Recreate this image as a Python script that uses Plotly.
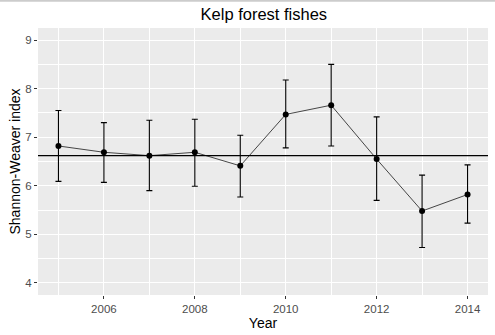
import plotly.graph_objects as go

# Annual Shannon-Weaver diversity of kelp forest fishes
years = [2005, 2006, 2007, 2008, 2009, 2010, 2011, 2012, 2013, 2014]
index_mean = [6.82, 6.69, 6.62, 6.69, 6.41, 7.47, 7.66, 6.55, 5.48, 5.82]
upper = [7.55, 7.30, 7.35, 7.37, 7.04, 8.18, 8.50, 7.42, 6.22, 6.43]
lower = [6.09, 6.07, 5.90, 5.99, 5.77, 6.78, 6.82, 5.70, 4.73, 5.23]

x_ticks = [2006, 2008, 2010, 2012, 2014]
y_ticks = [4, 5, 6, 7, 8, 9]

err_plus = [u - m for u, m in zip(upper, index_mean)]
err_minus = [m - l for m, l in zip(index_mean, lower)]
overall_mean = sum(index_mean) / len(index_mean)

fig = go.Figure()
fig.add_trace(go.Scatter(
    x=years, y=index_mean,
    mode="lines+markers",
    line=dict(color="#1a1a1a", width=0.8),
    marker=dict(color="black", size=6),
    error_y=dict(type="data", symmetric=False, array=err_plus,
                 arrayminus=err_minus, color="black", thickness=1.1, width=3),
    showlegend=False,
))
fig.add_hline(y=overall_mean, line=dict(color="black", width=1.1))

grid_style = dict(
    showgrid=True, gridcolor="white", gridwidth=1.1,
    zeroline=False, showline=False,
    ticks="outside", ticklen=3, tickwidth=1, tickcolor="#333333",
    tickfont=dict(family="Liberation Sans, Arial", size=11.5, color="#4d4d4d"),
)

fig.update_layout(
    width=495, height=335,
    margin=dict(l=38, r=7, t=28, b=40),
    paper_bgcolor="white",
    plot_bgcolor="#ebebeb",
    title=dict(text="Kelp forest fishes", x=0.533, xanchor="center",
               y=0.958, yanchor="middle",
               font=dict(family="Liberation Sans, Arial", size=16.5, color="black")),
    xaxis=dict(range=[2004.55, 2014.45], tickvals=x_ticks,
               minor=dict(tickvals=[2005, 2007, 2009, 2011, 2013],
                          showgrid=True, gridcolor="white", gridwidth=0.5, ticks=""),
               title=dict(text="Year", standoff=4,
                          font=dict(family="Liberation Sans, Arial", size=14, color="black")),
               **grid_style),
    yaxis=dict(range=[3.75, 9.25], tickvals=y_ticks,
               minor=dict(tickvals=[4.5, 5.5, 6.5, 7.5, 8.5],
                          showgrid=True, gridcolor="white", gridwidth=0.5, ticks=""),
               title=dict(text="Shannon-Weaver index", standoff=1,
                          font=dict(family="Liberation Sans, Arial", size=14, color="black")),
               **grid_style),
)

# thin rule along the top edge of the page
fig.add_shape(type="line", xref="paper", yref="paper", x0=-0.2, x1=1.2,
              y0=1.102, y1=1.102, line=dict(color="#cccccc", width=2))

fig.write_html("out.html")
